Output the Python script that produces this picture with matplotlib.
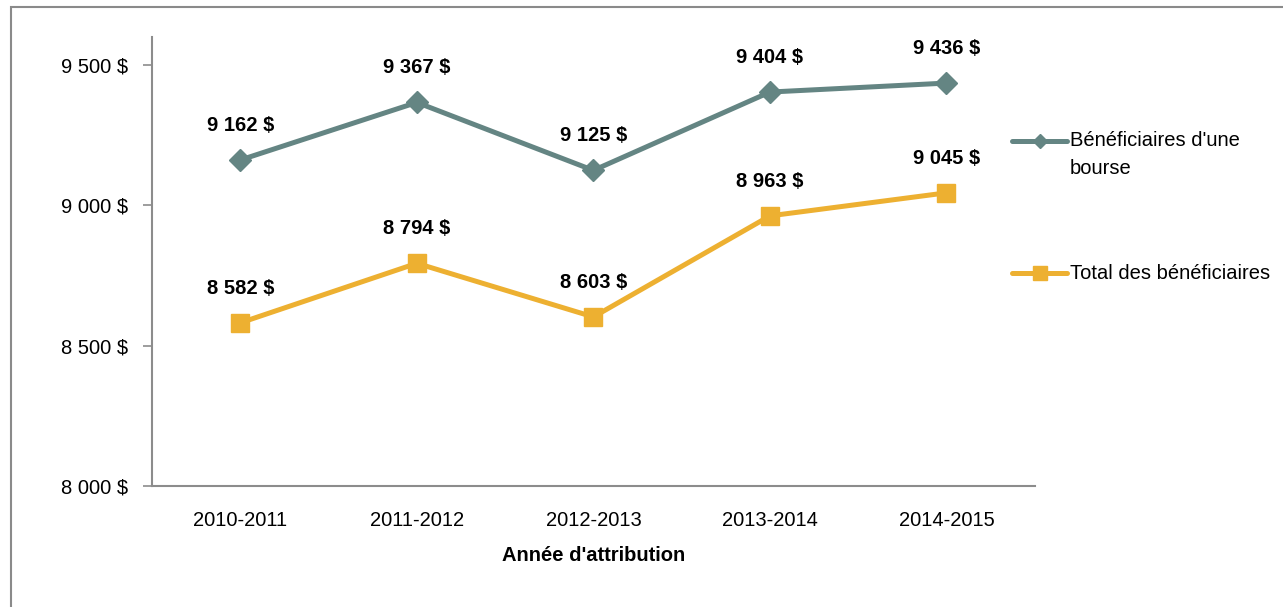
import matplotlib.pyplot as plt
from matplotlib.lines import Line2D
from matplotlib.patches import Rectangle

# -------- DATA ------------------------------------------------------
YEARS = ["2010-2011", "2011-2012", "2012-2013", "2013-2014", "2014-2015"]
BOURSE = [9162, 9367, 9125, 9404, 9436]
TOTAL = [8582, 8794, 8603, 8963, 9045]
SERIES_NAMES = ["Bénéficiaires d'une\nbourse", "Total des bénéficiaires"]
Y_TICKS = [8000, 8500, 9000, 9500]
# --------------------------------------------------------------------

TEAL = "#648583"
GOLD = "#EDB031"
AXIS_GREY = "#8c8c8c"
FONT = ["Liberation Sans", "DejaVu Sans"]
FS = 14.5


def fmt(v):
    return f"{v:,}".replace(",", " ") + " $"


def main():
    plt.rcParams["font.family"] = FONT
    fig = plt.figure(figsize=(12.83, 6.07), dpi=100)
    ax = fig.add_axes([0.1185, 0.199, 0.688, 0.740])

    x = list(range(len(YEARS)))
    ax.plot(x, BOURSE, color=TEAL, lw=3.6, marker="D", ms=11.5, zorder=3)
    ax.plot(x, TOTAL, color=GOLD, lw=3.6, marker="s", ms=13, zorder=3)

    # data labels above each point
    for vals in (BOURSE, TOTAL):
        for xi, v in zip(x, vals):
            ax.annotate(fmt(v), (xi, v), xytext=(0, 25), textcoords="offset points",
                        ha="center", va="center", fontsize=FS, fontweight="bold")

    ax.set_xlim(-0.5, len(YEARS) - 0.5)
    ax.set_ylim(8000, 9600)
    ax.set_xticks(x)
    ax.set_xticklabels(YEARS, fontsize=FS)
    ax.set_yticks(Y_TICKS)
    ax.set_yticklabels([fmt(t) for t in Y_TICKS], fontsize=FS)
    ax.tick_params(axis="x", length=0, pad=17.5)
    ax.tick_params(axis="y", length=6.5, width=1.2, color=AXIS_GREY, pad=11)
    ax.set_xlabel("Année d'attribution", fontsize=FS, fontweight="bold", labelpad=12)

    for side in ("top", "right"):
        ax.spines[side].set_visible(False)
    for side in ("left", "bottom"):
        ax.spines[side].set_color(AXIS_GREY)
        ax.spines[side].set_linewidth(1.5)

    # legend drawn by hand so the handle sits on the first text line
    leg_y = [1 - 141 / 607, 1 - 273 / 607]
    for name, col, mk, ms, y in zip(SERIES_NAMES, [TEAL, GOLD], ["D", "s"], [7.5, 9.5], leg_y):
        fig.add_artist(Line2D([1012 / 1283, 1067 / 1283], [y, y], color=col, lw=3.6,
                              solid_capstyle="round", transform=fig.transFigure))
        fig.add_artist(Line2D([1039.5 / 1283], [y], color=col, marker=mk, ms=ms,
                              transform=fig.transFigure))
        for i, line in enumerate(name.split("\n")):
            fig.text(1070 / 1283, y - i * 27 / 607, line, fontsize=FS,
                     va="center", ha="left")

    # outer chart border (only left and top edges visible)
    fig.add_artist(Rectangle((10.5 / 1283, -0.1), 1.2, 1 - 6.5 / 607 + 0.1, fill=False,
                             edgecolor="#8a8a8a", lw=1.5, transform=fig.transFigure))

    fig.savefig("out.png", dpi=100)


if __name__ == "__main__":
    main()
